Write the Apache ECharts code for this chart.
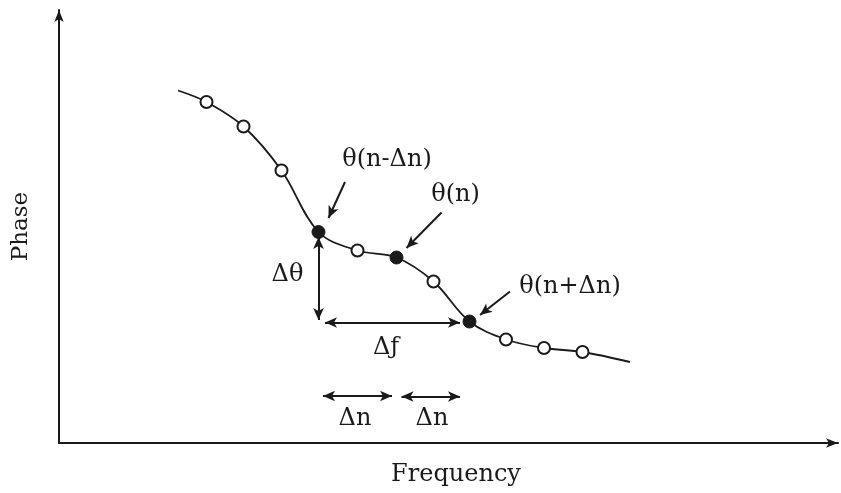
<!DOCTYPE html>
<html>
<head>
<meta charset="utf-8">
<script src="https://cdn.jsdelivr.net/npm/echarts@6/dist/echarts.min.js"></script>
<style>
html,body{margin:0;padding:0;background:#fff;}
#main{width:841px;height:493px;}
</style>
</head>
<body>
<div id="main"></div>
<script>
// curve points (frequency, phase), in arbitrary units
var curve_x = [119, 147.5, 184.5, 222.5, 259.5, 298.5, 337.5, 374.5, 410.5, 447, 485, 523.5, 571];
var curve_y = [352.5, 341, 316.5, 272.5, 211, 192.5, 185.5, 161.5, 121.5, 103.5, 95, 91, 81];
// 0 = plain curve, 1 = open sample, 2 = filled sample
var curve_kind = [0, 1, 1, 1, 2, 1, 2, 1, 2, 1, 1, 1, 0];

// annotation texts and where they sit
var label_text = ['\u03b8(n-\u0394n)', '\u03b8(n)', '\u03b8(n+\u0394n)', '\u0394\u03b8', '\u0394\u0192', '\u0394n', '\u0394n'];
var label_x = [328, 396.5, 511, 228.5, 327, 296, 373];
var label_y = [283, 248, 156, 168, 95, 24, 24];

// double arrows: [x1, y1, x2, y2]
var double_arrows = [
	[259.5, 206, 259.5, 123],
	[266, 120.5, 401, 120.5],
	[264, 47, 333, 47],
	[342.5, 46.5, 401, 46.5]
];
// pointer arrows from the labels to the points
var pointer_arrows = [
	[286, 261, 269.5, 225],
	[382.5, 230.5, 347.5, 195],
	[451, 151.5, 421, 128]
];

var buildCurve = function(){
	var pts = [];
	for(var i=0;i<curve_x.length;i++){
		var k = curve_kind[i];
		var p = {value:[curve_x[i],curve_y[i]]};
		if(k==0){
			p.symbol = 'none';
		}else if(k==1){
			p.symbol = 'circle';
			p.itemStyle = {color:'#fff',borderColor:'#1a1a1a',borderWidth:2};
		}else{
			p.symbol = 'circle';
			p.symbolSize = 13;
			p.itemStyle = {color:'#1a1a1a',borderColor:'#1a1a1a',borderWidth:1};
		}
		pts.push(p);
	}
	return pts;
};

var buildArrows = function(){
	var lines = [];
	for(var i=0;i<double_arrows.length;i++){
		var a = double_arrows[i];
		lines.push([{coord:[a[0],a[1]],symbol:'arrow'},{coord:[a[2],a[3]],symbol:'arrow'}]);
	}
	for(var j=0;j<pointer_arrows.length;j++){
		var b = pointer_arrows[j];
		lines.push([{coord:[b[0],b[1]],symbol:'none'},{coord:[b[2],b[3]],symbol:'arrow'}]);
	}
	return lines;
};

var buildLabels = function(){
	var d = [];
	for(var i=0;i<label_text.length;i++){
		d.push([label_x[i],label_y[i],label_text[i]]);
	}
	return d;
};

var myChart = echarts.init(document.getElementById('main'));
var font = '"DejaVu Serif", "Liberation Serif", serif';
var axisCommon = {
	type:'value',
	nameLocation:'middle',
	splitLine:{show:false},
	axisTick:{show:false},
	axisLabel:{show:false},
	axisLine:{
		show:true,
		symbol:['none','arrow'],
		symbolSize:[7,12],
		lineStyle:{color:'#1a1a1a',width:2}
	}
};
var option = {
	backgroundColor:'#fff',
	animation:false,
	grid:{left:59,right:3,top:10,bottom:50},
	xAxis:echarts.util.merge({
		min:0,max:779,
		name:'Frequency',
		nameGap:20,
		nameTextStyle:{fontFamily:font,fontSize:24,color:'#1a1a1a',padding:[0,0,0,15]}
	},axisCommon),
	yAxis:echarts.util.merge({
		min:0,max:433,
		name:'Phase',
		nameGap:26,
		nameTextStyle:{fontFamily:font,fontSize:23,color:'#1a1a1a'}
	},axisCommon),
	series:[
		{
			type:'line',
			data:buildCurve(),
			smooth:0.35,
			symbolSize:12,
			lineStyle:{color:'#1a1a1a',width:1.8},
			z:3
		},
		{
			type:'scatter',
			data:buildLabels(),
			symbolSize:0,
			silent:true,
			itemStyle:{opacity:1},
			label:{
				show:true,
				position:'inside',
				fontFamily:font,
				fontSize:24,
				color:'#1a1a1a',
				formatter:function(p){return p.value[2];}
			},
			markLine:{
				silent:true,
				symbolSize:[8,12],
				label:{show:false},
				lineStyle:{color:'#1a1a1a',width:2,type:'solid'},
				data:buildArrows()
			}
		}
	]
};
myChart.setOption(option);
window.onresize = function(){
	myChart.resize();
};
</script>
</body>
</html>
